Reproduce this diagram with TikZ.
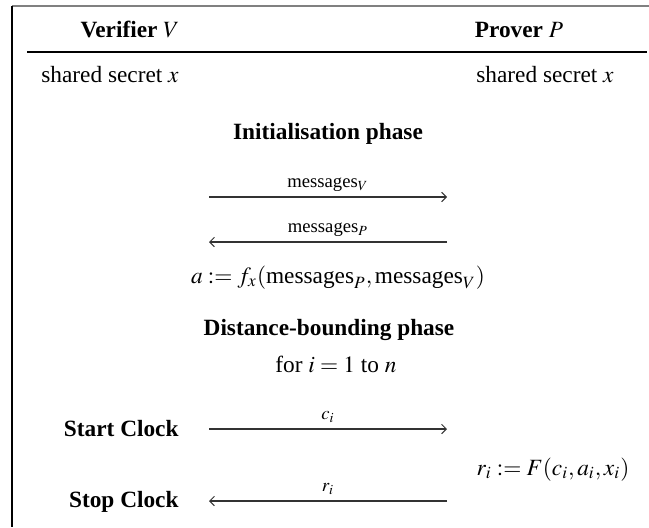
\documentclass[tikz,border=0pt]{standalone}
\usepackage{mathptmx}
\usepackage[no-math]{fontspec}
\setmainfont{Liberation Serif}
\usetikzlibrary{arrows.meta}
\begin{document}
\begin{tikzpicture}[x=0.429pt,y=-0.429pt,
  txt/.style={inner sep=0pt,anchor=base},
  lbl/.style={inner sep=0pt,anchor=base,font=\footnotesize},
  msg/.style={-{Straight Barb[length=2pt,width=4pt]},line width=0.45pt,draw=black!80},
  frame/.style={line width=0.9pt}]
\useasboundingbox (0,0) rectangle (649,527);
% frame
\draw[frame,draw=black!50] (12,6) -- (649,6);
\draw[frame] (12,6) -- (12,527);
\draw[line width=0.5pt] (27,52) -- (647,52);
% headers
\node[txt] (hv) at (130,37) {\textbf{Verifier} $V$};
\node[txt] (hp) at (519,37) {\textbf{Prover} $P$};
\node[txt] (sv) at (110,82) {shared secret $x$};
\node[txt] (sp) at (545,82) {shared secret $x$};
% initialisation
\node[txt] (init) at (328,139) {\textbf{Initialisation phase}};
\coordinate (a1l) at (209,197);
\coordinate (a1r) at (447,197);
\coordinate (a2l) at (209,242);
\coordinate (a2r) at (447,242);
\draw[msg] (a1l) -- node[lbl,yshift=4pt] (mv) {messages$_V$} (a1r);
\draw[msg] (a2r) -- node[lbl,yshift=4pt] (mp) {messages$_P$} (a2l);
\node[txt] (fa) at (338,283) {$a := f_x(\mbox{messages}_P, \mbox{messages}_V)$};
% distance bounding
\node[txt] (db) at (329,335) {\textbf{Distance-bounding phase}};
\node[txt] (loop) at (336,372) {for $i=1$ to $n$};
\node[txt,anchor=base east] (start) at (179,436) {\textbf{Start Clock}};
\node[txt,anchor=base east] (stop) at (179,507) {\textbf{Stop Clock}};
\coordinate (c1l) at (209,429);
\coordinate (c1r) at (447,429);
\coordinate (c2l) at (209,501);
\coordinate (c2r) at (447,501);
\draw[msg] (c1l) -- node[lbl,yshift=4pt] (ci) {$c_i$} (c1r);
\draw[msg] (c2r) -- node[lbl,yshift=4pt] (ri) {$r_i$} (c2l);
\node[txt] (fr) at (553,475) {$r_i := F(c_i,a_i,x_i)$};
\end{tikzpicture}
\end{document}
